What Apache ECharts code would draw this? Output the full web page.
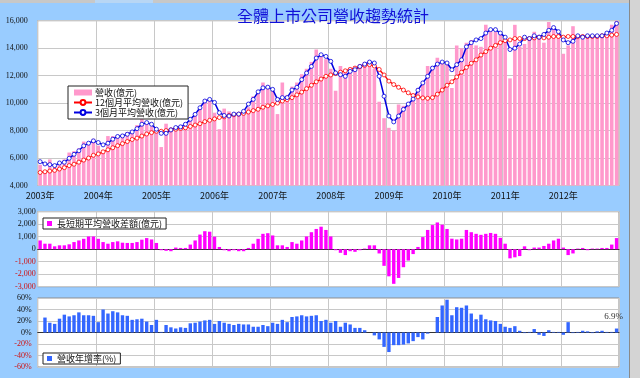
<!DOCTYPE html>
<html><head><meta charset="utf-8">
<script src="https://cdn.jsdelivr.net/npm/echarts/dist/echarts.min.js"></script>
<style>html,body{margin:0;padding:0;background:#99CCFF;}#c{width:640px;height:378px;}</style>
</head><body><div id="c"></div>
<script>
const years = [2003,2004,2005,2006,2007,2008,2009,2010,2011,2012];
const revenue = [
5500,5100,5900,5400,5600,5900,6400,6500,6700,7200,7100,7400,
6900,6600,7600,7600,7500,7700,7900,8000,8400,8900,8500,8300,
8000,6800,8500,8200,8100,8400,8500,8800,9300,9700,10300,10300,
9300,8100,9600,9400,9300,9100,9400,9700,10500,10800,11500,11300,
10900,9200,11500,10600,11200,11500,12100,12500,13000,13900,13500,13200,
12500,10900,12700,12400,12600,12700,12800,13000,13100,12500,10100,8900,
8200,8000,9900,9800,10000,10700,11100,11600,12700,12700,13300,13000,
13000,11100,14200,14000,14400,14600,14200,14100,15700,15300,15200,15000,
14700,11800,15700,14100,14300,14600,15200,14800,14400,15900,15500,15200,
13600,14200,15600,14800,14900,14900,14800,14900,15000,15200,15700,16100];
const ma12 = [
4950,5000,5050,5100,5200,5300,5450,5550,5700,5850,6000,6200,
6300,6450,6600,6750,6900,7050,7200,7350,7450,7600,7750,7850,
7950,7950,8000,8050,8100,8150,8200,8300,8400,8500,8650,8750,
8850,8950,9000,9100,9150,9200,9250,9350,9450,9550,9700,9800,
9900,10000,10150,10250,10400,10600,10800,11050,11300,11550,11750,11950,
12050,12150,12250,12350,12450,12550,12650,12750,12800,12700,12450,12050,
11600,11350,11150,10950,10750,10550,10450,10380,10350,10400,10650,10950,
11300,11550,11900,12250,12600,12900,13150,13500,13750,14000,14200,14400,
14550,14600,14700,14700,14700,14700,14750,14800,14750,14800,14850,14850,
14800,14850,14850,14850,14850,14850,14850,14850,14900,14900,14950,15000];
const ma3 = [
5735,5570,5520,5450,5640,5690,5980,6270,6530,6890,7080,7250,
7130,6960,7080,7370,7570,7610,7730,7900,8140,8460,8580,8460,
8100,7800,7800,8050,8220,8270,8460,8820,9180,9660,10150,10270,
10050,9300,9100,9060,9200,9200,9400,9930,10270,10820,11110,11160,
11000,10270,10400,10400,10950,11150,11710,12190,12670,13280,13520,13400,
13040,12200,12070,11950,12310,12430,12670,12840,12990,12920,11950,10500,
9060,8630,9060,9540,9930,10290,10940,11470,11950,12550,12840,12990,
12920,12430,12800,13150,14100,14400,14600,14700,15100,15350,15350,15100,
14800,13900,14000,14300,14800,14700,14900,14800,15000,15300,15500,15200,
14600,14400,14500,14900,14800,14900,14900,14900,14900,15100,15300,15800];
const diff = [
700,440,440,230,310,310,390,570,700,830,1020,1020,
830,570,440,570,630,520,500,500,570,760,890,780,
500,-80,-130,-160,130,100,100,370,700,1170,1440,1400,
1000,180,-80,-160,-80,-160,-160,100,440,830,1230,1280,
1100,310,310,180,570,440,700,1020,1360,1620,1800,1540,
1020,-80,-290,-470,-160,-210,-80,50,310,310,-340,-1330,
-2170,-2770,-2300,-1440,-910,-390,180,970,1540,1930,2140,1960,
1620,840,780,840,1540,1360,1230,1150,1230,1300,1230,910,
440,-730,-650,-550,230,-80,130,130,260,440,700,840,
130,-470,-340,50,100,-80,50,50,100,100,370,890];
const yoy = [
null,26,17,15,24,31,28,30,35,30,30,29,
18,40,33,37,35,30,29,22,23,24,19,13,
22,1,13,9,7,9,8,16,17,19,21,22,
15,20,17,15,13,15,14,14,10,10,13,11,
17,15,22,18,27,28,30,28,29,30,20,22,
17,20,10,17,14,8,8,4,0,-5,-12,-25,
-34,-22,-22,-21,-19,-15,-8,-12,-2,0,27,47,
57,30,44,43,47,33,23,31,23,21,20,15,
10,8,11,3,-1,1,6,-4,-6,4,1,1,
-4,18,-1,1,3,2,-1,2,3,1,1,6.9];

const months = [];
years.forEach(y => { for (let m = 1; m <= 12; m++) months.push(y + '/' + m); });

const CJK = '"Noto Sans CJK TC","Noto Sans CJK SC",sans-serif';
const NUM = '"Liberation Serif",serif';
const gridL = 37.7, gridR = 21;
const grids = [
  {left: gridL, right: gridR, top: 20.7, height: 164.8},
  {left: gridL, right: gridR, top: 211.7, height: 75},
  {left: gridL, right: gridR, top: 298, height: 69}
].map(g => Object.assign(g, {show: true, backgroundColor: '#fff', borderColor: '#8c8c8c', borderWidth: 1, containLabel: false}));

function xAxis(idx, showLabel) {
  return {
    type: 'category', gridIndex: idx, data: months, boundaryGap: true,
    axisTick: {show: false},
    axisLine: {show: idx > 0, onZero: true, lineStyle: {color: '#333', width: 1}},
    axisLabel: {show: showLabel, interval: 11, formatter: v => v.split('/')[0] + '年',
      fontFamily: CJK, fontSize: 9, color: '#111', margin: 6},
    splitLine: {show: true, interval: 11, lineStyle: {color: '#c8c8c8', width: 1}}
  };
}
const negRed = v => (v < 0 ? '#d01010' : '#111');
const option = {
  animation: false,
  backgroundColor: '#99CCFF',
  title: {text: '全體上市公司營收趨勢統計', left: 232, top: 3,
    textStyle: {fontFamily: CJK, fontSize: 16, fontWeight: 'normal', color: '#1010d8'}},
  grid: grids,
  xAxis: [xAxis(0, true), xAxis(1, false), xAxis(2, false)],
  yAxis: [
    {type: 'value', gridIndex: 0, min: 4000, max: 16000, interval: 2000,
     axisLine: {show: false}, axisTick: {show: false},
     axisLabel: {fontFamily: NUM, fontSize: 8, color: '#111', margin: 10, formatter: v => v.toLocaleString('en-US')},
     splitLine: {lineStyle: {color: '#c8c8c8'}}},
    {type: 'value', gridIndex: 1, min: -3000, max: 3000, interval: 1000,
     axisLine: {show: false}, axisTick: {show: false},
     axisLabel: {fontFamily: NUM, fontSize: 8, margin: 2, color: negRed, formatter: v => v.toLocaleString('en-US')},
     splitLine: {lineStyle: {color: '#c8c8c8'}}},
    {type: 'value', gridIndex: 2, min: -60, max: 60, interval: 20,
     axisLine: {show: false}, axisTick: {show: false},
     axisLabel: {fontFamily: NUM, fontSize: 8, margin: 6, color: negRed, formatter: '{value}%'},
     splitLine: {lineStyle: {color: '#c8c8c8'}}}
  ],
  legend: [
    {data: [{name: '營收(億元)', icon: 'rect'}, '12個月平均營收(億元)', '3個月平均營收(億元)'],
     orient: 'vertical', left: 68, top: 86, itemGap: 1, itemWidth: 18, itemHeight: 6,
     padding: [2, 5, 2, 5], backgroundColor: '#fff', borderColor: '#222', borderWidth: 1,
     textStyle: {fontFamily: CJK, fontSize: 9, color: '#111', padding: [0, 0, 0, -2]}},
    {data: [{name: '長短期平均營收差額(億元)', icon: 'rect'}], left: 43, top: 218,
     itemWidth: 5, itemHeight: 5, padding: [1, 4, 1, 4], backgroundColor: '#fff', borderColor: '#222', borderWidth: 1,
     textStyle: {fontFamily: CJK, fontSize: 9, color: '#111'}},
    {data: [{name: '營收年增率(%)', icon: 'rect'}], left: 43, top: 353,
     itemWidth: 5, itemHeight: 5, padding: [1, 4, 1, 4], backgroundColor: '#fff', borderColor: '#222', borderWidth: 1,
     textStyle: {fontFamily: CJK, fontSize: 9, color: '#111'}}
  ],
  series: [
    {name: '營收(億元)', type: 'bar', xAxisIndex: 0, yAxisIndex: 0, data: revenue,
     barCategoryGap: '26%', itemStyle: {color: '#FF99CC'}},
    {name: '12個月平均營收(億元)', type: 'line', xAxisIndex: 0, yAxisIndex: 0, data: ma12,
     showAllSymbol: true, symbol: 'circle', symbolSize: 4, lineStyle: {color: '#FF0000', width: 1.3},
     itemStyle: {color: '#fff', borderColor: '#FF0000', borderWidth: 0.8}},
    {name: '3個月平均營收(億元)', type: 'line', xAxisIndex: 0, yAxisIndex: 0, data: ma3,
     showAllSymbol: true, symbol: 'circle', symbolSize: 4, lineStyle: {color: '#0000E0', width: 1.5},
     itemStyle: {color: '#fff', borderColor: '#0000E0', borderWidth: 0.8}},
    {name: '長短期平均營收差額(億元)', type: 'bar', xAxisIndex: 1, yAxisIndex: 1, data: diff,
     barCategoryGap: '30%', itemStyle: {color: '#FF00FF'}},
    {name: '營收年增率(%)', type: 'bar', xAxisIndex: 2, yAxisIndex: 2,
     data: yoy.map((v, i) => i === yoy.length - 1 ? {value: v, label: {show: true, position: 'top', formatter: '{c}%', fontFamily: NUM, fontSize: 9, color: '#333', offset: [-3, -2]}} : v),
     barCategoryGap: '30%', itemStyle: {color: '#3366FF'}}
  ],
  graphic: [
    {type: 'rect', shape: {x: 0, y: 0, width: 640, height: 3}, style: {fill: '#c8c8c8'}, silent: true},
    {type: 'rect', shape: {x: 95, y: 0, width: 58, height: 3}, style: {fill: '#b8d6f4'}, silent: true},
    {type: 'rect', shape: {x: 629, y: 0, width: 11, height: 378}, style: {fill: '#d4d4d4'}, silent: true},
    {type: 'line', shape: {x1: 629.5, y1: 0, x2: 629.5, y2: 378}, style: {stroke: '#8a8a8a', lineWidth: 1}, silent: true}
  ]
};
const chart = echarts.init(document.getElementById('c'), null, {renderer: 'canvas'});
chart.setOption(option);
</script></body></html>
